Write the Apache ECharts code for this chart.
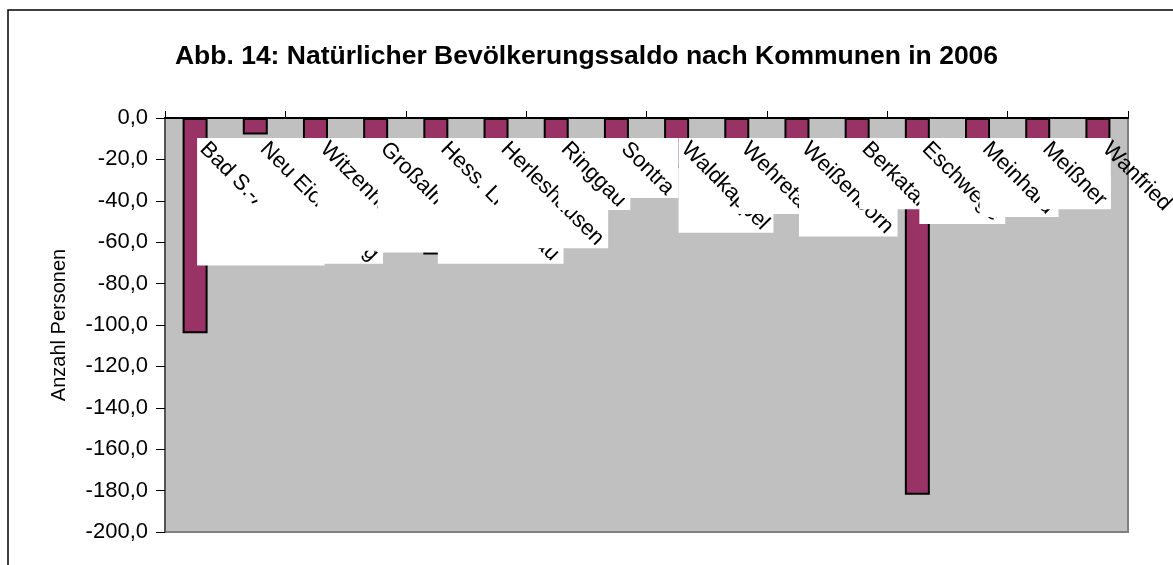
<!DOCTYPE html>
<html>
<head>
<meta charset="utf-8">
<script src="https://cdn.jsdelivr.net/npm/echarts@6/dist/echarts.min.js"></script>
<style>
  html, body { margin: 0; padding: 0; background: #fff; }
  #main { width: 1173px; height: 565px; }
</style>
</head>
<body>
<div id="main"></div>
<script>
// Kommunen (Werra-Meißner-Kreis) und natürlicher Saldo 2006
var kommunen = ['Bad S.-Allendorf', 'Neu Eichenberg', 'Witzenhausen', 'Großalmerode',
  'Hess. Lichtenau', 'Herleshausen', 'Ringgau', 'Sontra', 'Waldkappel', 'Wehretal',
  'Weißenborn', 'Berkatal', 'Eschwege', 'Meinhard', 'Meißner', 'Wanfried'];
var saldo = [-104, -8, -52, -35, -66, -20, -18, -33, -24, -22, -14, -12, -182, -17, -20, -28];
var yTicks = { min: -200, max: 0, interval: 20 };

var labelFont = '22px "Liberation Sans", Arial, sans-serif';
var ctx = document.createElement('canvas').getContext('2d');
ctx.font = labelFont;

function fmt(v) {
  return v.toFixed(1).replace('.', ',');
}

// Excel-artige Beschriftung: 45° gedreht, mit achsparalleler weißer Box
function renderLabel(params, api) {
  var i = api.value(0);
  var p = api.coord([i, 0]);
  var name = kommunen[i];
  var w = ctx.measureText(name).width;
  var s = (w + 20) / Math.SQRT2;
  var children = [];
  if (i < kommunen.length - 1) {
    children.push({
      type: 'rect',
      shape: { x: p[0] + 2, y: p[1] + 20, width: s, height: s },
      style: { fill: '#ffffff' }
    });
  }
  children.push({
    type: 'text',
    x: p[0] + 16,
    y: p[1] + 20,
    rotation: -Math.PI / 4,
    style: { text: name, font: labelFont, fill: '#000', align: 'left', verticalAlign: 'top' }
  });
  return { type: 'group', children: children };
}

var chart = echarts.init(document.getElementById('main'));
chart.setOption({
  animation: false,
  backgroundColor: '#ffffff',
  title: {
    text: 'Abb. 14: Natürlicher Bevölkerungssaldo nach Kommunen in 2006',
    left: 'center',
    top: 38,
    textStyle: { fontFamily: 'Liberation Sans, Arial', fontWeight: 'bold', fontSize: 26.5, color: '#000' }
  },
  graphic: [{
    type: 'rect',
    shape: { x: 8, y: 10, width: 1300, height: 700 },
    style: { fill: 'none', stroke: '#000', lineWidth: 1.5 },
    silent: true
  }],
  grid: {
    left: 165, right: 45, top: 118, bottom: 33,
    show: true,
    backgroundColor: '#c0c0c0',
    borderColor: '#808080',
    borderWidth: 2
  },
  xAxis: {
    type: 'category',
    data: kommunen,
    position: 'top',
    axisLine: { onZero: false, lineStyle: { color: '#000', width: 2 } },
    axisTick: { show: true, length: 7, lineStyle: { color: '#000', width: 1 } },
    axisLabel: { show: false },
    splitLine: { show: false }
  },
  yAxis: {
    type: 'value',
    min: yTicks.min,
    max: yTicks.max,
    interval: yTicks.interval,
    name: 'Anzahl Personen',
    nameLocation: 'middle',
    nameGap: 96,
    nameRotate: 90,
    nameTextStyle: { fontFamily: 'Liberation Sans, Arial', fontSize: 20, color: '#000' },
    axisLine: { show: true, lineStyle: { color: '#555', width: 2 } },
    axisTick: { show: true, length: 9, lineStyle: { color: '#000' } },
    axisLabel: {
      margin: 17,
      fontFamily: 'Liberation Sans, Arial',
      fontSize: 22,
      color: '#000',
      formatter: fmt
    },
    splitLine: { show: false }
  },
  series: [{
    type: 'bar',
    data: saldo,
    barWidth: 25,
    itemStyle: { color: '#993366', borderColor: '#000', borderWidth: 2 }
  }, {
    type: 'custom',
    clip: false,
    z: 5,
    data: kommunen.map(function (k, i) { return [i, 0]; }),
    encode: { x: 0, y: 1 },
    renderItem: renderLabel
  }]
});
</script>
</body>
</html>
